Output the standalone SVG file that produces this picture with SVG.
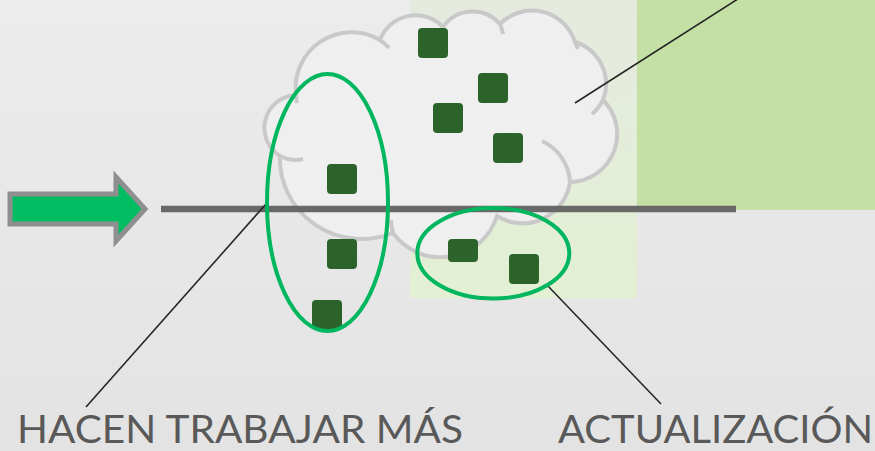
<svg xmlns="http://www.w3.org/2000/svg" width="875" height="451" viewBox="0 0 875 451">
  <defs>
    <linearGradient id="bg" x1="0" y1="0" x2="0" y2="1">
      <stop offset="0" stop-color="#ececec"/>
      <stop offset="1" stop-color="#e3e3e3"/>
    </linearGradient>
    <linearGradient id="pale" x1="0" y1="0" x2="0" y2="1">
      <stop offset="0" stop-color="#e5eadf"/>
      <stop offset="1" stop-color="#e3f0d3"/>
    </linearGradient>
    <style>
      .cloud { fill: #efefef; stroke: #c9c9c9; stroke-width: 4; }
      .stub { fill: none; stroke: #c9c9c9; stroke-width: 4; }
      .sq { fill: #2b632b; }
      .ring { fill: none; stroke: #00b65e; stroke-width: 4; }
      .leader { stroke: #262626; stroke-width: 1.6; fill: none; }
      .lbl { font-family: Lato, "Open Sans", "Liberation Sans", sans-serif; font-size: 39px; fill: #595959; }
    </style>
  </defs>

  <rect x="0" y="0" width="875" height="451" fill="url(#bg)"/>
  <rect x="410" y="0" width="227" height="298" fill="url(#pale)"/>
  <rect x="637" y="0" width="238" height="210" fill="#c5e0a5"/>

  <g id="cloud">
    <path class="cloud" d="M 280 156 A 33 33 0 0 1 296 95 A 56 56 0 0 1 380 40 A 38 38 0 0 1 443 27 A 36 36 0 0 1 500 24 A 45 45 0 0 1 575 42 A 44 44 0 0 1 603 100 A 48 48 0 0 1 570 182 A 48 48 0 0 1 497 216 A 59 59 0 0 1 393 233 A 82 80 0 0 1 280 156 Z"/>
    <path class="stub" d="M 303 159 A 33 33 0 0 1 280 156"/>
    <path class="stub" d="M 297 103 A 56 56 0 0 1 296 95"/>
    <path class="stub" d="M 380 40 A 56 56 0 0 1 389 48"/>
    <path class="stub" d="M 500 24 A 36 36 0 0 1 503 34"/>
    <path class="stub" d="M 575 42 A 45 45 0 0 1 578 49"/>
    <path class="stub" d="M 603 100 A 44 44 0 0 1 592 114"/>
    <path class="stub" d="M 542 141 A 48 48 0 0 1 570 182"/>
    <path class="stub" d="M 393 233 A 59 59 0 0 1 391 220"/>
  </g>

  <g id="timeline">
    <line x1="161" y1="209" x2="736" y2="209" stroke="#686868" stroke-width="6.5"/>
  </g>

  <g id="items">
    <rect class="sq" x="418" y="28" width="30" height="30" rx="4"/>
    <rect class="sq" x="478" y="73" width="30" height="30" rx="4"/>
    <rect class="sq" x="433" y="103" width="30" height="30" rx="4"/>
    <rect class="sq" x="493" y="133" width="30" height="30" rx="4"/>
    <rect class="sq" x="327" y="164" width="30" height="30" rx="4"/>
    <rect class="sq" x="327" y="239" width="30" height="30" rx="4"/>
    <rect class="sq" x="448" y="239" width="30" height="23" rx="4"/>
    <rect class="sq" x="509" y="254" width="30" height="30" rx="4"/>
    <rect class="sq" x="312" y="300" width="30" height="30" rx="4"/>
  </g>

  <g id="connectors">
    <line class="leader" x1="575" y1="103" x2="741" y2="-3"/>
    <line class="leader" x1="266" y1="204" x2="86" y2="407"/>
    <line class="leader" x1="547" y1="285" x2="661" y2="404"/>
  </g>

  <g id="group-left">
    <ellipse class="ring" cx="327.5" cy="202.5" rx="60.5" ry="128.5"/>
  </g>
  <g id="group-right">
    <ellipse class="ring" cx="493.3" cy="253.3" rx="76" ry="45.3"/>
  </g>

  <g id="arrow">
    <path d="M 10 194 L 116 194 L 116 177 L 145 209 L 116 241 L 116 224 L 10 224 Z" fill="#00bd62" stroke="#8f8f8f" stroke-width="5" stroke-linejoin="miter"/>
  </g>

  <g id="labels">
    <text class="lbl" x="17" y="443" textLength="446" lengthAdjust="spacingAndGlyphs">HACEN TRABAJAR MÁS</text>
    <text class="lbl" x="558" y="443" textLength="315" lengthAdjust="spacingAndGlyphs">ACTUALIZACIÓN</text>
  </g>
</svg>
